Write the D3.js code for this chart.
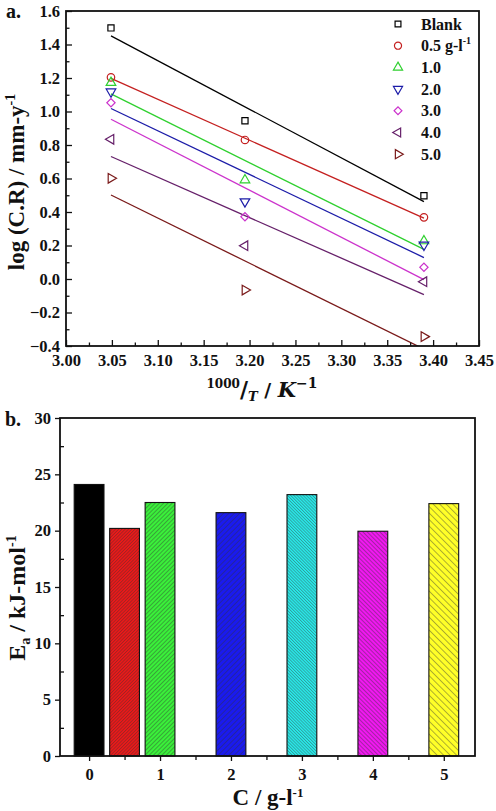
<!DOCTYPE html>
<html><head><meta charset="utf-8">
<script src="https://cdn.jsdelivr.net/npm/d3@7"></script>
<style>
body{margin:0;background:#fff}
svg{display:block}
text{font-family:"Liberation Serif","Times New Roman",serif;font-weight:bold;fill:#111}
</style>
</head><body>
<svg id="c" width="496" height="811"></svg>
<script>
// ---------- data: panel a ----------
const invT = [3.049, 3.195, 3.390];
const seriesLabels = ["Blank", "0.5 g-l", "1.0", "2.0", "3.0", "4.0", "5.0"];
const logBlank = [1.499, 0.945, 0.497];
const log05 = [1.204, 0.830, 0.368];
const log10 = [1.172, 0.591, 0.227];
const log20 = [1.118, 0.462, 0.203];
const log30 = [1.052, 0.372, 0.070];
const log40 = [0.834, 0.199, -0.016];
const log50 = [0.601, -0.066, -0.344];
const xTicksA = [3.00, 3.05, 3.10, 3.15, 3.20, 3.25, 3.30, 3.35, 3.40, 3.45];
const yTicksA = [-0.4, -0.2, 0.0, 0.2, 0.4, 0.6, 0.8, 1.0, 1.2, 1.4, 1.6];
// ---------- data: panel b ----------
const concentration = [0, 0.5, 1, 2, 3, 4, 5];
const activationEnergy = [24.1, 20.2, 22.5, 21.6, 23.2, 19.95, 22.4];
const xTicksB = [0, 1, 2, 3, 4, 5];
const yTicksB = [0, 5, 10, 15, 20, 25, 30];

const seriesData = [logBlank, log05, log10, log20, log30, log40, log50];

const svg = d3.select("#c");
const defs = svg.append("defs");

// ================= PANEL A =================
const A = {l: 66, r: 479, t: 11, b: 346};
const xA = d3.scaleLinear().domain([3.00, 3.45]).range([A.l, A.r]);
const yA = d3.scaleLinear().domain([-0.4, 1.6]).range([A.b, A.t]);
const lineColors = ["#000000", "#c42020", "#2fd02f", "#1c1ca8", "#cc33cc", "#66206a", "#7a1a1a"];
const symTypes = [
  {t: d3.symbolSquare, rot: 0, s: 38},
  {t: d3.symbolCircle, rot: 0, s: 44},
  {t: d3.symbolTriangle, rot: 0, s: 40},
  {t: d3.symbolTriangle, rot: 180, s: 40},
  {t: d3.symbolSquare, rot: 45, s: 34},
  {t: d3.symbolTriangle, rot: -90, s: 40},
  {t: d3.symbolTriangle, rot: 90, s: 40}
];

defs.append("clipPath").attr("id", "clipA").append("rect")
  .attr("x", A.l).attr("y", A.t).attr("width", A.r - A.l).attr("height", A.b - A.t);

const gA = svg.append("g");

// fitted lines (least squares)
const lineGen = d3.line().x(d => xA(d[0])).y(d => yA(d[1]));
seriesData.forEach((ys, i) => {
  const mx = d3.mean(invT), my = d3.mean(ys);
  let sxy = 0, sxx = 0;
  invT.forEach((x, k) => { sxy += (x - mx) * (ys[k] - my); sxx += (x - mx) * (x - mx); });
  const m = sxy / sxx, c = my - m * mx;
  const x0 = invT[0], x1 = invT[invT.length - 1];
  gA.append("path").attr("clip-path", "url(#clipA)")
    .attr("d", lineGen([[x0, m * x0 + c], [x1, m * x1 + c]]))
    .attr("fill", "none").attr("stroke", lineColors[i]).attr("stroke-width", 1.3);
});

// markers
seriesData.forEach((ys, i) => {
  const st = symTypes[i];
  gA.selectAll(null).data(ys.map((v, k) => [invT[k], v])).enter().append("path")
    .attr("d", d3.symbol().type(st.t).size(st.s)())
    .attr("transform", d => `translate(${xA(d[0])},${yA(d[1])}) rotate(${st.rot})`)
    .attr("fill", "none").attr("stroke", lineColors[i]).attr("stroke-width", 1.2);
});

// axes
const axXA = gA.append("g").attr("transform", `translate(0,${A.b})`)
  .call(d3.axisBottom(xA).tickValues(xTicksA).tickSize(-6).tickPadding(8).tickFormat(d3.format(".2f")));
const axXAm = gA.append("g").attr("transform", `translate(0,${A.b})`)
  .call(d3.axisBottom(xA).tickValues(d3.pairs(xTicksA, (a, b) => (a + b) / 2)).tickSize(-3.5).tickFormat(""));
const axYA = gA.append("g").attr("transform", `translate(${A.l},0)`)
  .call(d3.axisLeft(yA).tickValues(yTicksA).tickSize(-6).tickPadding(6).tickFormat(d3.format(".1f")));
const axYAm = gA.append("g").attr("transform", `translate(${A.l},0)`)
  .call(d3.axisLeft(yA).tickValues(d3.pairs(yTicksA, (a, b) => (a + b) / 2)).tickSize(-3.5).tickFormat(""));
[axXA, axXAm, axYA, axYAm].forEach(g => {
  g.select(".domain").remove();
  g.selectAll(".tick line").attr("stroke", "#111").attr("stroke-width", 1.3);
  g.selectAll(".tick text").attr("font-size", 16.5).attr("fill", "#111")
    .style("font-family", '"Liberation Serif",serif').style("font-weight", "bold");
});
gA.append("rect").attr("x", A.l).attr("y", A.t).attr("width", A.r - A.l).attr("height", A.b - A.t)
  .attr("fill", "none").attr("stroke", "#111").attr("stroke-width", 1.8);

// legend
seriesLabels.forEach((lab, i) => {
  const ly = 24 + i * 21.7;
  const st = symTypes[i];
  gA.append("path").attr("d", d3.symbol().type(st.t).size(st.s * 0.9)())
    .attr("transform", `translate(398,${ly}) rotate(${st.rot})`)
    .attr("fill", "none").attr("stroke", lineColors[i]).attr("stroke-width", 1.2);
  const t = gA.append("text").attr("x", 421).attr("y", ly + 5.5).attr("font-size", 16);
  t.append("tspan").text(lab);
  if (i === 1) t.append("tspan").attr("dy", -7).attr("font-size", 10).text("-1");
});

// axis titles A
const tyA = gA.append("text").attr("transform", `translate(24,182) rotate(-90)`)
  .attr("text-anchor", "middle").attr("font-size", 23);
tyA.append("tspan").text("log (C.R) / mm-y");
tyA.append("tspan").attr("dy", -9).attr("font-size", 14).text("-1");

const txA = gA.append("text").attr("x", 262).attr("y", 397).attr("text-anchor", "middle")
  .style("font-family", '"DejaVu Serif","Liberation Serif",serif');
txA.append("tspan").attr("font-size", 12).attr("dy", -9).text("1000");
txA.append("tspan").attr("font-size", 22).attr("dy", 9).text("/");
txA.append("tspan").attr("font-size", 13).attr("font-style", "italic").attr("dy", 4).text("T");
txA.append("tspan").attr("font-size", 19).attr("dy", -4).text(" / ");
txA.append("tspan").attr("font-size", 21).attr("font-style", "italic").text("K");
txA.append("tspan").attr("font-size", 14).attr("dy", -9).text("\u22121");

svg.append("text").attr("x", 6).attr("y", 18).attr("font-size", 20).text("a.");

// ================= PANEL B =================
const B = {l: 60, r: 475, t: 418, b: 756};
const xB = d3.scaleLinear().domain([-0.41, 5.44]).range([B.l, B.r]);
const yB = d3.scaleLinear().domain([0, 30]).range([B.b, B.t]);
const barFill = ["#000000", "#f01818", "#3af03a", "#1a1aee", "#28eeee", "#f018f0", "#ffff28"];
const hatch = [null, {a: 45, w: 2.3}, {a: 45, w: 3.0}, {a: 45, w: 3.8}, {a: -45, w: 2.2}, {a: -45, w: 3.0}, {a: -45, w: 4.6}];

hatch.forEach((h, i) => {
  if (!h) return;
  const p = defs.append("pattern").attr("id", "h" + i).attr("patternUnits", "userSpaceOnUse")
    .attr("width", h.w).attr("height", h.w).attr("patternTransform", `rotate(${h.a})`);
  p.append("rect").attr("width", h.w).attr("height", h.w).attr("fill", barFill[i]);
  p.append("line").attr("x1", 0.5).attr("x2", 0.5).attr("y1", 0).attr("y2", h.w)
    .attr("stroke", "#333").attr("stroke-width", 0.4);
});

const gB = svg.append("g");
const bw = xB(0.42) - xB(0);
gB.selectAll("rect.bar").data(concentration).enter().append("rect").attr("class", "bar")
  .attr("x", d => xB(d) - bw / 2)
  .attr("y", (d, i) => yB(activationEnergy[i]))
  .attr("width", bw)
  .attr("height", (d, i) => yB(0) - yB(activationEnergy[i]))
  .attr("fill", (d, i) => hatch[i] ? `url(#h${i})` : barFill[i])
  .attr("stroke", "#111").attr("stroke-width", 1.1);

const axXB = gB.append("g").attr("transform", `translate(0,${B.b})`)
  .call(d3.axisBottom(xB).tickValues(xTicksB).tickSize(5).tickPadding(7).tickFormat(d3.format("d")));
const axXBm = gB.append("g").attr("transform", `translate(0,${B.b})`)
  .call(d3.axisBottom(xB).tickValues(d3.pairs(xTicksB, (a, b) => (a + b) / 2)).tickSize(4).tickFormat(""));
const axYB = gB.append("g").attr("transform", `translate(${B.l},0)`)
  .call(d3.axisLeft(yB).tickValues(yTicksB).tickSize(5).tickPadding(4).tickFormat(d3.format("d")));
const axYBm = gB.append("g").attr("transform", `translate(${B.l},0)`)
  .call(d3.axisLeft(yB).tickValues(d3.pairs(yTicksB, (a, b) => (a + b) / 2)).tickSize(-4).tickFormat(""));
[axXB, axXBm, axYB, axYBm].forEach(g => {
  g.select(".domain").remove();
  g.selectAll(".tick line").attr("stroke", "#111").attr("stroke-width", 1.3);
  g.selectAll(".tick text").attr("font-size", 16.5).attr("fill", "#111")
    .style("font-family", '"Liberation Serif",serif').style("font-weight", "bold");
});
gB.append("rect").attr("x", B.l).attr("y", B.t).attr("width", B.r - B.l).attr("height", B.b - B.t)
  .attr("fill", "none").attr("stroke", "#111").attr("stroke-width", 1.8);

const tyB = gB.append("text").attr("transform", `translate(25,598) rotate(-90)`)
  .attr("text-anchor", "middle").attr("font-size", 24);
tyB.append("tspan").text("E");
tyB.append("tspan").attr("font-size", 14).attr("dy", 5).text("a");
tyB.append("tspan").attr("dy", -5).text(" / kJ-mol");
tyB.append("tspan").attr("dy", -9).attr("font-size", 14).text("-1");

const txB = gB.append("text").attr("x", 268).attr("y", 805).attr("text-anchor", "middle").attr("font-size", 23);
txB.append("tspan").text("C / g-l");
txB.append("tspan").attr("dy", -8).attr("font-size", 13).text("-1");

svg.append("text").attr("x", 5).attr("y", 426).attr("font-size", 20).text("b.");
</script>
</body></html>
